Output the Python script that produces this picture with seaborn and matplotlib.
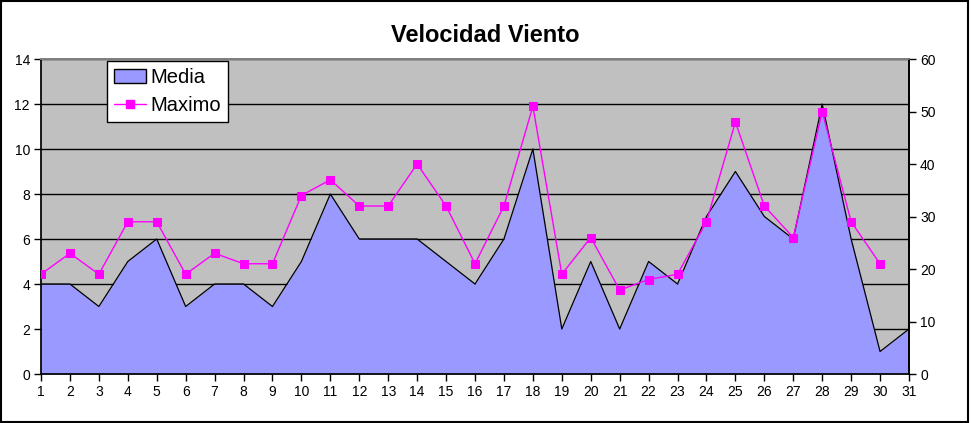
import numpy as np
import pandas as pd
import seaborn as sns
import matplotlib.pyplot as plt
from matplotlib.patches import Patch, Rectangle
from matplotlib.lines import Line2D

dias   = list(range(1, 32))
media  = [4, 4, 3, 5, 6, 3, 4, 4, 3, 5, 8, 6, 6, 6, 5, 4, 6, 10, 2, 5,
          2, 5, 4, 7, 9, 7, 6, 12, 6, 1, 2]
maximo = [19, 23, 19, 29, 29, 19, 23, 21, 21, 34, 37, 32, 32, 40, 32, 21, 32, 51, 19, 26,
          16, 18, 19, 29, 48, 32, 26, 50, 29, 21, np.nan]

df = pd.DataFrame({'Dia': dias, 'Media': media, 'Maximo': maximo})

sns.set_theme(style='white')
plt.rcParams['font.family'] = ['Liberation Sans', 'DejaVu Sans']
plt.rcParams['text.color'] = 'black'
plt.rcParams['xtick.color'] = 'black'
plt.rcParams['ytick.color'] = 'black'

fig = plt.figure(figsize=(9.71, 4.23), dpi=100)
ax  = fig.add_axes([41/971, 1-374/423, 868/971, 315/423])
ax.set_facecolor('#C0C0C0')

# area for Media, with black outline
ax.fill_between(df.Dia, df.Media, color='#9999FF', zorder=2, lw=0)
sns.lineplot(x='Dia', y='Media', data=df, color='black', lw=0.9, ax=ax, zorder=3)

ax.set_xlim(1, 31)
ax.set_ylim(0, 14)
ax.set_yticks(range(0, 15, 2))
ax.set_xticks(dias)
ax.yaxis.grid(True, color='black', lw=1)
ax.set_axisbelow(True)
ax.set(xlabel='', ylabel='')
ax.tick_params(axis='both', direction='out', length=5, width=1, color='black',
               labelsize=10, labelcolor='black', pad=3, left=True, bottom=True)
for s in ['left', 'bottom', 'right']:
    ax.spines[s].set_color('black')
ax.spines['top'].set_color('#808080')

ax2 = ax.twinx()
sns.lineplot(x='Dia', y='Maximo', data=df, color='#FF00FF', lw=1, marker='s',
             markersize=5.5, markeredgecolor='#FF00FF', ax=ax2, zorder=4)
ax2.set_ylim(0, 60)
ax2.set_yticks(range(0, 61, 10))
ax2.set(xlabel='', ylabel='')
ax2.tick_params(axis='y', direction='out', length=5, width=1, color='black',
                labelsize=10, labelcolor='black', pad=3, right=True)
ax2.spines['right'].set_color('black')
ax2.spines['top'].set_color('#808080')
ax2.spines['left'].set_visible(False)
ax2.spines['bottom'].set_visible(False)

handles = [Patch(facecolor='#9999FF', edgecolor='black', lw=1),
           Line2D([], [], color='#FF00FF', lw=1, marker='s', markersize=5.5)]
leg = ax2.legend(handles, ['Media', 'Maximo'], loc='upper left',
                 bbox_to_anchor=((107-41)/868, (374-61)/315), fontsize=14.5,
                 frameon=True, fancybox=False, framealpha=1, borderpad=0.35,
                 handlelength=1.6, handletextpad=0.2, labelspacing=0.45,
                 borderaxespad=0)
leg.get_frame().set_edgecolor('black')
leg.get_frame().set_linewidth(1)
for t in leg.get_texts():
    t.set_color('black')

fig.text(485/971, 1-35/423, 'Velocidad Viento', ha='center', va='center',
         fontsize=17, fontweight='bold', color='black')
fig.patches.append(Rectangle((0.5/971, 1.5/423), 967/971, 420/423, transform=fig.transFigure,
                             fill=False, edgecolor='black', lw=1.5))

fig.savefig('out.png', dpi=100)
